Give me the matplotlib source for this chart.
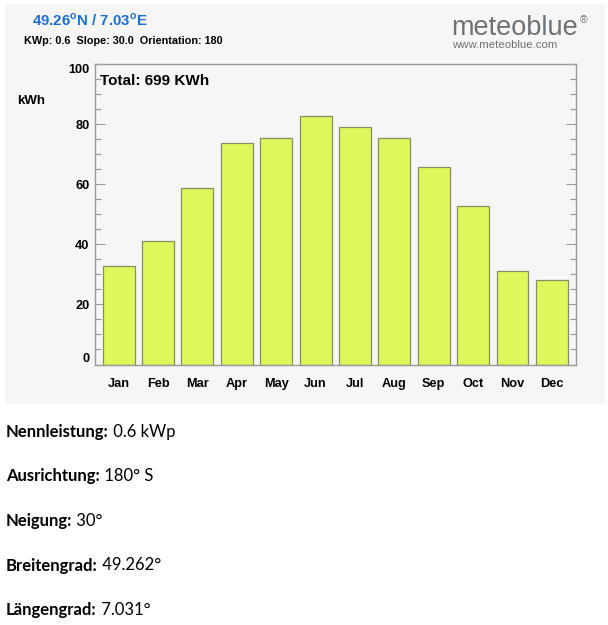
import matplotlib
matplotlib.use("Agg")
import matplotlib.pyplot as plt
from matplotlib.patches import Rectangle
from matplotlib.ticker import MultipleLocator

plt.rcParams["font.family"] = ["Liberation Sans", "DejaVu Sans"]
plt.rcParams["mathtext.fontset"] = "custom"
plt.rcParams["mathtext.rm"] = "Liberation Sans"
plt.rcParams["mathtext.bf"] = "Liberation Sans:bold"

# monthly PV yield (kWh)
monate = ["Jan", "Feb", "Mar", "Apr", "May", "Jun", "Jul", "Aug", "Sep", "Oct", "Nov", "Dec"]
ertrag = [32.8, 41.3, 58.9, 73.7, 75.5, 82.7, 79.0, 75.5, 65.7, 52.7, 31.3, 28.3]
y_ticks = [0, 20, 40, 60, 80, 100]

titel = r"49.26$^{\mathbf{o}}$N / 7.03$^{\mathbf{o}}$E"
untertitel = "KWp: 0.6  Slope: 30.0  Orientation: 180"
gesamt = "Total: 699 KWh"

infos = [
    ("Nennleistung:", " 0.6 kWp"),
    ("Ausrichtung:", " 180° S"),
    ("Neigung:", " 30°"),
    ("Breitengrad:", " 49.262°"),
    ("Längengrad:", " 7.031°"),
]

W, H = 608, 625
INFO_FONT = ["Lato", "DejaVu Sans"]

fig = plt.figure(figsize=(W / 100, H / 100), dpi=100)
fig.patch.set_facecolor("white")

# grey panel behind the chart
fig.patches.append(Rectangle((5 / W, 1 - 404 / H), 600 / W, 400 / H,
                             transform=fig.transFigure, facecolor="#f6f6f6",
                             edgecolor="none", zorder=-5))

ax = fig.add_axes([95 / W, 1 - 364.5 / H, 480.5 / W, 300.2 / H])
ax.set_zorder(2)
ax.set_facecolor("#f6f6f6")
x = list(range(len(monate)))
ax.bar(x, ertrag, width=0.81, color="#dff75a", edgecolor="#8c8c62", linewidth=0.9, zorder=2)
ax.set_xlim(-0.6, 11.6)
ax.set_ylim(0, 100)
ax.set_xticks(x)
ax.set_xticklabels(monate, fontsize=9.2, fontweight="bold")
ax.set_yticks(y_ticks)
ax.set_yticklabels([str(v) for v in y_ticks], fontsize=9.2, fontweight="bold")
ax.yaxis.set_minor_locator(MultipleLocator(5))
ax.tick_params(axis="y", which="major", direction="in", length=7, width=0.8,
               color="#999999", left=True, right=True, pad=4)
ax.tick_params(axis="y", which="minor", direction="in", length=4, width=0.8,
               color="#999999", left=True, right=True)
ax.tick_params(axis="x", direction="in", length=6, width=0.8, color="#999999", pad=10)
for s in ax.spines.values():
    s.set_color("#9a9a9a")
    s.set_linewidth(1.0)

labels = ax.get_yticklabels()
labels[0].set_va("bottom")
labels[-1].set_va("top")

ax.text(5 / 480, 1 - 16.4 / 300, gesamt, transform=ax.transAxes, fontsize=11,
        fontweight="bold", va="center", ha="left")
fig.text(17 / W, 1 - 100.7 / H, "kWh", fontsize=9.5, fontweight="bold", va="center")

# header
fig.text(31.7 / W, 1 - 20 / H, titel, color="#1d6fd4", fontsize=10.8,
         fontweight="bold", va="center")
fig.text(24 / W, 1 - 40.5 / H, untertitel, fontsize=7.8, fontweight="bold", va="center")
fig.text(578 / W, 1 - 35 / H, "meteoblue", color="#6d7277", fontsize=19.5,
         ha="right", va="baseline")
fig.text(580 / W, 1 - 20 / H, "®", color="#6d7277", fontsize=7.5, ha="left", va="center")
fig.text(452 / W, 1 - 45.5 / H, "www.meteoblue.com", color="#6d7277", fontsize=8.2,
         ha="left", va="center")

# info lines below the chart
for i, (fett, normal) in enumerate(infos):
    yb = 1 - (436.7 + 44.6 * i) / H
    t = fig.text(6 / W, yb, fett, fontsize=12, fontweight="bold", va="baseline",
                 family=INFO_FONT)
    ax.annotate(normal, xy=(1, yb), xycoords=(t, fig.transFigure), fontsize=12,
                va="baseline", ha="left", family=INFO_FONT,
                annotation_clip=False)

fig.savefig("out.png", dpi=100, facecolor="white")
